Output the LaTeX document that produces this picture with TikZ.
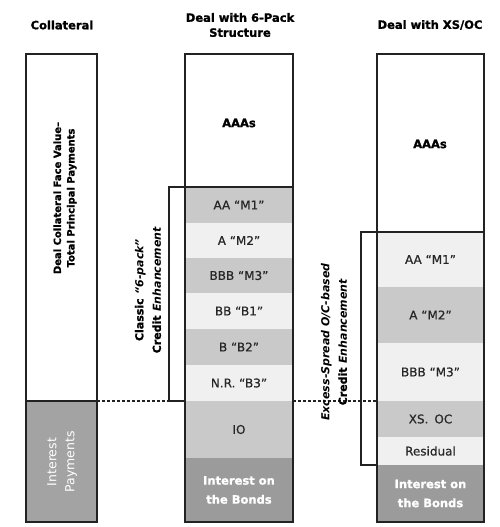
\documentclass[tikz,border=0pt]{standalone}
\usepackage{fontspec}
\setmainfont{DejaVu Sans}[BoldFeatures={FakeBold=1.2}]
\newfontfamily\labfont[FakeBold=0.6]{DejaVu Sans}
\definecolor{gmid}{HTML}{C9C9C9}
\definecolor{glight}{HTML}{F0F0F0}
\definecolor{gdark}{HTML}{9B9B9B}
\definecolor{gleft}{HTML}{A3A3A3}
\definecolor{lineclr}{HTML}{222222}
\begin{document}
\begin{tikzpicture}[x=1pt,y=-1pt,
  cell/.style={inner sep=0pt, outer sep=0pt, anchor=north west, align=center,
    font=\labfont\fontsize{12}{14}\selectfont, text=black!85},
  wtext/.style={text=white, font=\bfseries\fontsize{11.5}{19}\selectfont},
  head/.style={align=center, font=\bfseries\fontsize{11.5}{15}\selectfont},
  rot/.style={rotate=90, align=center, font=\bfseries\fontsize{10}{13.5}\selectfont},
  brot/.style={rotate=90, align=center, font=\bfseries\fontsize{11}{17.5}\selectfont},
  frame/.style={draw=lineclr, line width=1.8pt},
  brk/.style={draw=lineclr, line width=1.1pt},
  dsh/.style={draw=lineclr, line width=1.1pt, dash pattern=on 3pt off 2pt}]
\useasboundingbox (0,0) rectangle (500,527);

% headings
\node[head] (h1) at (62,25) {Collateral};
\node[head] (h2) at (240,25) {Deal with 6-Pack\\Structure};
\node[head] (h3) at (430,25) {Deal with XS/OC};

% left column
\node[cell, fill=white, minimum width=71pt, minimum height=347pt] (lp) at (26,54) {};
\node[cell, fill=gleft, minimum width=71pt, minimum height=121pt] (li) at (26,401) {};
\node[rot] (lpt) at (65,198) {Deal Collateral Face Value--\\Total Principal Payments};
\node[rotate=90, align=center, text=white, font=\fontsize{12.5}{18}\selectfont] (lit) at (62,462) {Interest\\Payments};

% middle column
\node[cell, fill=white, minimum width=108pt, minimum height=133pt] (maaa) at (185,54) {};
\node[font=\bfseries\fontsize{11.5}{12}\selectfont] (maaat) at (239,123) {AAAs};
\node[cell, fill=gmid, minimum width=108pt, minimum height=36pt] (mm1) at (185,187) {AA “M1”};
\node[cell, fill=glight, minimum width=108pt, minimum height=35pt] (mm2) at (185,223) {A “M2”};
\node[cell, fill=gmid, minimum width=108pt, minimum height=35pt] (mm3) at (185,258) {BBB “M3”};
\node[cell, fill=glight, minimum width=108pt, minimum height=36pt] (mb1) at (185,293) {BB “B1”};
\node[cell, fill=gmid, minimum width=108pt, minimum height=36pt] (mb2) at (185,329) {B “B2”};
\node[cell, fill=glight, minimum width=108pt, minimum height=36pt] (mb3) at (185,365) {N.R. “B3”};
\node[cell, fill=gmid, minimum width=108pt, minimum height=57pt] (mio) at (185,401) {IO};
\node[cell, fill=gdark, minimum width=108pt, minimum height=64pt, wtext] (mint) at (185,458) {Interest on\\the Bonds};

% right column
\node[cell, fill=white, minimum width=107pt, minimum height=178pt] (raaa) at (377,54) {};
\node[font=\bfseries\fontsize{11.5}{12}\selectfont] (raaat) at (430,144) {AAAs};
\node[cell, fill=glight, minimum width=107pt, minimum height=55pt] (rm1) at (377,232) {AA “M1”};
\node[cell, fill=gmid, minimum width=107pt, minimum height=56pt] (rm2) at (377,287) {A “M2”};
\node[cell, fill=glight, minimum width=107pt, minimum height=58pt] (rm3) at (377,343) {BBB “M3”};
\node[cell, fill=gmid, minimum width=107pt, minimum height=36pt] (rxs) at (377,401) {XS.\enspace OC};
\node[cell, fill=glight, minimum width=107pt, minimum height=28pt] (rres) at (377,437) {Residual};
\node[cell, fill=gdark, minimum width=107pt, minimum height=57pt, wtext] (rint) at (377,465) {Interest on\\the Bonds};

% frames
\draw[frame] (lp.north west) rectangle (li.south east);
\draw[frame] (lp.south west) -- (lp.south east);
\draw[frame] (maaa.north west) rectangle (mint.south east);
\draw[frame] (maaa.south west) -- (maaa.south east);
\draw[frame] (raaa.north west) rectangle (rint.south east);
\draw[frame] (raaa.south west) -- (raaa.south east);

% dashed line
\draw[dsh] (lp.south east) -- (mb3.south west);
\draw[dsh] (mb3.south east) -- (rxs.north west);

% brackets
\draw[brk] (mm1.north west) -- ++(-16,0) coordinate (lb1) |- (mb3.south west);
\draw[brk] (rm1.north west) -- ++(-16,0) coordinate (rb1) |- (rres.south west);

% bracket labels
\node[brot] (lbt) at (148,290) {Classic \textit{“6-pack”}\\Credit \textit{Enhancement}};
\node[brot] (rbt) at (334,342) {\textit{Excess-Spread O/C-based}\\Credit \textit{Enhancement}};
\end{tikzpicture}
\end{document}
